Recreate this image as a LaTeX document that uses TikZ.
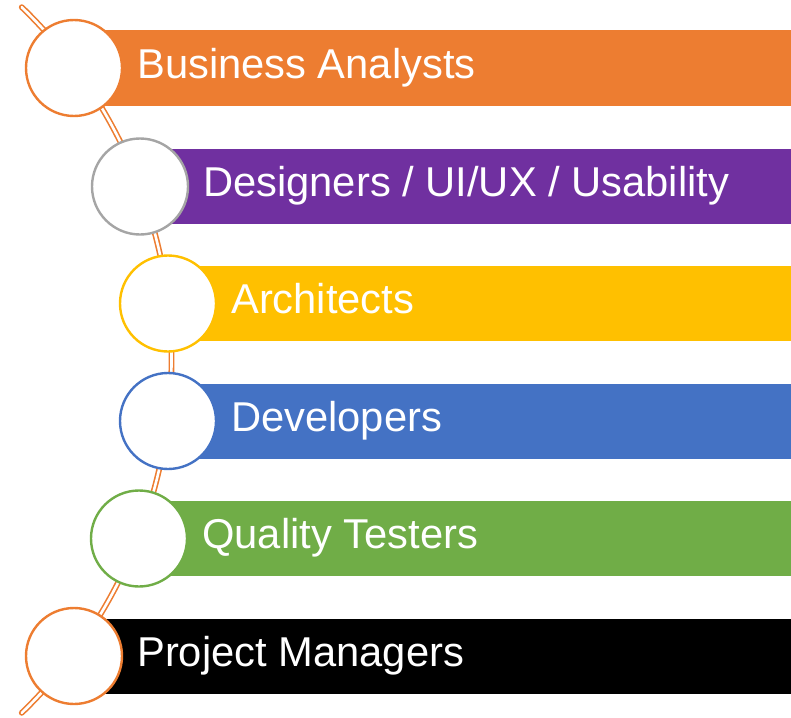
\documentclass[tikz,border=0pt]{standalone}
\usepackage{fontspec}
\setmainfont{Liberation Sans}
\usetikzlibrary{positioning}
\definecolor{roleOrange}{HTML}{ED7D31}
\definecolor{rolePurple}{HTML}{7030A0}
\definecolor{roleGold}{HTML}{FFC000}
\definecolor{roleBlue}{HTML}{4472C4}
\definecolor{roleGreen}{HTML}{70AD47}
\definecolor{roleGray}{HTML}{A5A5A5}

\begin{document}
\begin{tikzpicture}[x=1pt,y=-1pt,
    ring/.style={circle,draw,fill=white,line width=2.4pt,minimum size=96pt,inner sep=0pt},
    band/.style={anchor=west,minimum width=#1,minimum height=75pt,inner sep=0pt},
    tag/.style={text=white,font=\fontsize{41.7}{50}\selectfont,inner sep=0pt,anchor=base west}]
    \useasboundingbox (0,0) rectangle (791,717);
    \coordinate (hub) at (-319,360);
    \draw[roleOrange,line width=1.6pt,double=white,double distance=2.6pt,line cap=round]
        (hub) ++(-46:490.5) arc[start angle=-46,end angle=46,radius=490.5];
    \node[band=717pt,fill=roleOrange] (bar1) at (74,68) {};
    \node[band=651pt,fill=rolePurple] (bar2) at (140,186.5) {};
    \node[band=623pt,fill=roleGold] (bar3) at (168,303.5) {};
    \node[band=623pt,fill=roleBlue] (bar4) at (168,421) {};
    \node[band=652pt,fill=roleGreen] (bar5) at (139,538.5) {};
    \node[band=717pt,fill=black] (bar6) at (74,656) {};
    \node[ring,draw=roleOrange] (c1) at (bar1.west) {};
    \node[ring,draw=roleGray] (c2) at (bar2.west) {};
    \node[ring,draw=roleGold] (c3) at (bar3.west) {};
    \node[ring,draw=roleBlue] (c4) at (bar4.west) {};
    \node[ring,draw=roleGreen] (c5) at (bar5.west) {};
    \node[ring,draw=roleOrange] (c6) at (bar6.west) {};
    \node[tag] (t1) at ([xshift=63pt,yshift=-10pt]c1.center) {Business Analysts};
    \node[tag] (t2) at ([xshift=63pt,yshift=-10pt]c2.center) {Designers / UI/UX / Usability};
    \node[tag] (t3) at ([xshift=63pt,yshift=-10pt]c3.center) {Architects};
    \node[tag] (t4) at ([xshift=63pt,yshift=-10pt]c4.center) {Developers};
    \node[tag] (t5) at ([xshift=63pt,yshift=-10pt]c5.center) {Quality Testers};
    \node[tag] (t6) at ([xshift=63pt,yshift=-10pt]c6.center) {Project Managers};
\end{tikzpicture}
\end{document}
